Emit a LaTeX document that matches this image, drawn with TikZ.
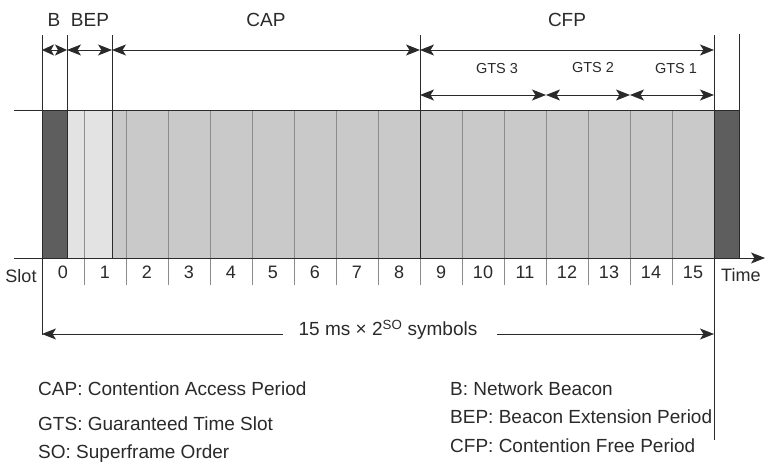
\documentclass[tikz,border=0pt]{standalone}
\usepackage{fontspec}
\setmainfont{Liberation Sans}
\usetikzlibrary{arrows.meta}
\definecolor{beacon}{HTML}{5E5E5E}
\definecolor{bepfill}{HTML}{E3E3E3}
\definecolor{capfill}{HTML}{C9C9C9}
\definecolor{ink}{HTML}{2A2A2A}
\definecolor{divider}{HTML}{8C8C8C}
\begin{document}
\begin{tikzpicture}[x=1pt,y=-1pt,
  line/.style={draw=ink, line width=0.9pt},
  dim/.style={line, {Stealth[length=14pt,width=11pt,inset=3.5pt]}-{Stealth[length=14pt,width=11pt,inset=3.5pt]}},
  dimshort/.style={line, {Stealth[length=12pt,width=11pt,inset=3pt]}-{Stealth[length=12pt,width=11pt,inset=3pt]}},
  dimr/.style={line, -{Stealth[length=14pt,width=11pt,inset=3.5pt]}},
  diml/.style={line, {Stealth[length=14pt,width=11pt,inset=3.5pt]}-},
  divline/.style={draw=divider, line width=0.7pt},
  big/.style={font=\fontsize{19}{22}\selectfont, text=ink, inner sep=0pt},
  slotlbl/.style={font=\fontsize{18}{21}\selectfont, text=ink, inner sep=0pt},
  gtslbl/.style={font=\fontsize{14.5}{17}\selectfont, text=ink, inner sep=0pt},
  legend/.style={big, anchor=base west}
]
\useasboundingbox (0,0) rectangle (765,463);
\fill[white] (0,0) rectangle (765,463);

% blocks
\fill[beacon] (42,110) rectangle (67,258);
\fill[bepfill] (67,110) rectangle (112,258);
\fill[capfill] (112,110) rectangle (714,258);
\fill[beacon] (714,110) rectangle (739,258);

% slot dividers and ticks
\foreach \k in {0,...,14} {
  \draw[divline] ({84+42*\k},110) -- ({84+42*\k},285);
}

% coordinates
\coordinate (b0t) at (42,35);   \coordinate (b0a) at (42,50);   \coordinate (b0b) at (42,335);
\coordinate (b1t) at (67,35);   \coordinate (b1a) at (67,50);   \coordinate (b1b) at (67,258);
\coordinate (b2t) at (112,35);  \coordinate (b2a) at (112,50);  \coordinate (b2b) at (112,258);
\coordinate (b3t) at (420,35);  \coordinate (b3a) at (420,50);  \coordinate (b3b) at (420,258);
\coordinate (b3g) at (420,95);
\coordinate (b4t) at (714,35);  \coordinate (b4a) at (714,50);  \coordinate (b4b) at (714,440);
\coordinate (b4g) at (714,95);  \coordinate (b4d) at (714,334);
\coordinate (b5t) at (739,34);  \coordinate (b5b) at (739,258);
\coordinate (g1) at (546,95);   \coordinate (g2) at (630,95);
\coordinate (tl) at (14,110);   \coordinate (tr) at (739,110);
\coordinate (bl) at (14,258);   \coordinate (br) at (765,258);
\coordinate (d0) at (42,334);   \coordinate (d1) at (283,334);  \coordinate (d2) at (497,334);

% vertical boundary lines
\draw[line] (b0t) -- (b0b);
\draw[line] (b1t) -- (b1b);
\draw[line] (b2t) -- (b2b);
\draw[line] (b3t) -- (b3b);
\draw[line] (b4t) -- (b4b);
\draw[line] (b5t) -- (b5b);

% horizontal lines
\draw[line] (tl) -- (tr);
\draw[dimr] (bl) -- (br);

% period arrows
\draw[dimshort] (b0a) -- (b1a);
\draw[dim] (b1a) -- (b2a);
\draw[dim] (b2a) -- (b3a);
\draw[dim] (b3a) -- (b4a);
\draw[dim] (b3g) -- (g1);
\draw[dim] (g1) -- (g2);
\draw[dim] (g2) -- (b4g);

% period labels
\node[big] (lB) at (54,20) {B};
\node[big] (lBEP) at (90,20) {BEP};
\node[big] (lCAP) at (266,20) {CAP};
\node[big] (lCFP) at (567,20) {CFP};
\node[gtslbl] (lG3) at (497,69) {GTS 3};
\node[gtslbl] (lG2) at (593,67.5) {GTS 2};
\node[gtslbl] (lG1) at (676,69) {GTS 1};

% slot numbers
\foreach \i in {0,...,15} {
  \node[slotlbl] (s\i) at ({63+42*\i},272) {\i};
}
\node[slotlbl] (slot) at (21,276) {Slot};
\node[slotlbl, anchor=west] (time) at (721,275) {Time};

% duration
\node[big] (dur) at (388,330) {15 ms × 2\textsuperscript{SO} symbols};
\draw[diml] (d0) -- (d1);
\draw[dimr] (d2) -- (b4d);

% legend
\node[legend] (k1) at (38,395) {CAP: Contention Access Period};
\node[legend] (k2) at (38,430) {GTS: Guaranteed Time Slot};
\node[legend] (k3) at (38,458) {SO: Superframe Order};
\node[legend] (k4) at (450,395) {B: Network Beacon};
\node[legend] (k5) at (450,423) {BEP: Beacon Extension Period};
\node[legend] (k6) at (450,452) {CFP: Contention Free Period};
\end{tikzpicture}
\end{document}
